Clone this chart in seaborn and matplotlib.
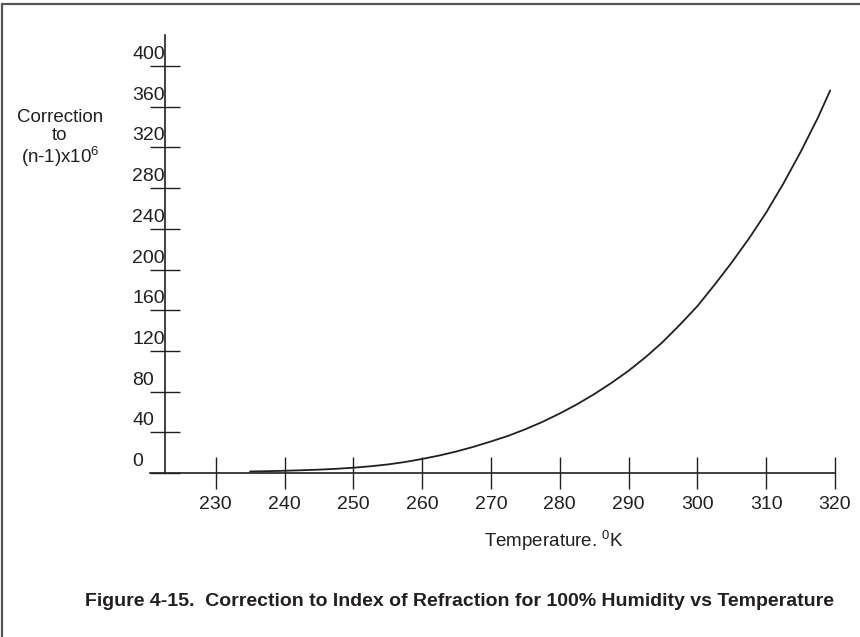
import matplotlib
matplotlib.use("Agg")
import matplotlib.pyplot as plt
import matplotlib.transforms as mtransforms
from matplotlib.lines import Line2D
import seaborn as sns
import pandas as pd

# Correction to (n-1)x10^6 for saturated air, by temperature (K)
temperature_k = [235, 237.5, 240, 242.5, 245, 247.5, 250, 252.5, 255, 257.5,
                 260, 262.5, 265, 267.5, 270, 272.5, 275, 277.5, 280, 282.5,
                 285, 287.5, 290, 292.5, 295, 297.5, 300, 302.5, 305, 307.5,
                 310, 312.5, 315, 317.5, 319.3]
correction = [1.5, 1.8, 2.2, 2.7, 3.3, 4.1, 5.2, 6.6, 8.4, 10.8,
              13.8, 17.2, 21.2, 25.8, 31, 36.5, 43, 50.3, 58.5, 67.5,
              77.5, 88.5, 100.5, 114, 129, 146, 164, 185, 207, 230.5,
              256, 284.5, 315.5, 349, 376]

x_ticks = [230, 240, 250, 260, 270, 280, 290, 300, 310, 320]
y_ticks = [0, 40, 80, 120, 160, 200, 240, 280, 320, 360, 400]

ink = "#231f20"

sns.set_style("white")
plt.rcParams["font.family"] = ["Liberation Sans", "DejaVu Sans"]
plt.rcParams["mathtext.fontset"] = "custom"
plt.rcParams["mathtext.rm"] = "Liberation Sans"
plt.rcParams["mathtext.it"] = "Liberation Sans"

W, H = 860, 637
fig = plt.figure(figsize=(W / 100, H / 100), dpi=100)
fig.patch.set_facecolor("white")

# axes box in pixels: left 150, right 835, top 35, bottom 473
ax = fig.add_axes([150 / W, (H - 473) / H, (835 - 150) / W, (473 - 35) / H])
ax.set_facecolor("white")

df = pd.DataFrame({"T": temperature_k, "C": correction})
sns.lineplot(data=df, x="T", y="C", ax=ax, color=ink, linewidth=1.3,
             estimator=None, sort=True)

ax.set_xlim(220.45, 320)
ax.set_ylim(0, 430.5)

for side in ("top", "right"):
    ax.spines[side].set_visible(False)
ax.spines["left"].set_position(("data", 222.6))
ax.spines["left"].set_color(ink)
ax.spines["bottom"].set_color(ink)
ax.spines["left"].set_linewidth(1.2)
ax.spines["bottom"].set_linewidth(1.2)

ax.set_xticks(x_ticks)
ax.set_xticklabels([str(v) for v in x_ticks])
ax.tick_params(axis="x", bottom=True, direction="inout", length=23, width=1.0,
               color=ink, labelcolor=ink, labelsize=14, pad=5)

ax.set_yticks(y_ticks)
ax.tick_params(axis="y", left=True, direction="inout", length=22, width=1.0,
               color=ink, labelleft=False)

# y values sit above-left of their tick marks
lab_tf = ax.transData + mtransforms.ScaledTranslation(0, 3 / 100, fig.dpi_scale_trans)
for v in y_ticks:
    ax.text(217.85, v, str(v), ha="left", va="bottom", fontsize=14,
            color=ink, transform=lab_tf, clip_on=False)

ax.set_xlabel("")
ax.set_ylabel("")

fig.text(60 / W, 1 - 139 / H, "Correction\nto\n(n-1)x10$^{6}$",
         ha="center", va="center", multialignment="center",
         fontsize=13.5, color=ink, linespacing=1.05)

fig.text(554 / W, 1 - 541 / H, "Temperature. $^{0}$K",
         ha="center", va="center", fontsize=13.5, color=ink)

fig.text(459 / W, 1 - 601 / H,
         "Figure 4-15.  Correction to Index of Refraction for 100% Humidity vs Temperature",
         ha="center", va="center", fontsize=14, fontweight="bold", color=ink)

# page frame on the left and top edges
fig.add_artist(Line2D([2 / W, 2 / W], [0, 1 - 4 / H], transform=fig.transFigure,
                      color="#555555", linewidth=1.6))
fig.add_artist(Line2D([2 / W, 1], [1 - 4 / H, 1 - 4 / H], transform=fig.transFigure,
                      color="#555555", linewidth=1.6))

fig.savefig("out.png", dpi=100, facecolor="white")
